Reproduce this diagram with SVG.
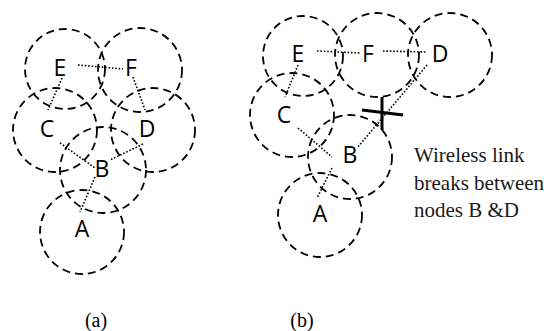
<svg xmlns="http://www.w3.org/2000/svg" width="547" height="331" viewBox="0 0 547 331">
<style>
.rng{fill:none;stroke:#000;stroke-width:1.8;stroke-dasharray:8 5}
.lnk{fill:none;stroke:#000;stroke-width:1.6;stroke-dasharray:1.6 1.8}
.lbl{font-family:"Open Sans","Liberation Sans",sans-serif;font-size:23px;fill:#000;text-anchor:middle}
.txt{font-family:"Liberation Serif",serif;font-size:21px;fill:#1a1a1a}
.cap{font-family:"Liberation Serif",serif;font-size:20px;fill:#000;text-anchor:middle}
.brk{stroke:#000;stroke-width:3;fill:none}
</style>
<rect width="547" height="331" fill="#fff"/>
<g id="panel-a">
  <g id="a-E"><circle class="rng" cx="65" cy="69" r="40"/><text class="lbl" x="60" y="76">E</text></g>
  <g id="a-F"><circle class="rng" cx="140" cy="70" r="42"/><text class="lbl" x="131" y="76">F</text></g>
  <g id="a-C"><circle class="rng" cx="55" cy="130" r="42"/><text class="lbl" x="47" y="137">C</text></g>
  <g id="a-D"><circle class="rng" cx="153" cy="130" r="42"/><text class="lbl" x="147" y="137">D</text></g>
  <g id="a-B"><circle class="rng" cx="103" cy="170" r="43"/><text class="lbl" x="102" y="177">B</text></g>
  <g id="a-A"><circle class="rng" cx="82" cy="232" r="42"/><text class="lbl" x="82" y="237">A</text></g>
</g>
<g id="panel-b">
  <g id="b-E"><circle class="rng" cx="303" cy="56" r="40"/><text class="lbl" x="298" y="62">E</text></g>
  <g id="b-F"><circle class="rng" cx="377" cy="55" r="42"/><text class="lbl" x="368" y="62">F</text></g>
  <g id="b-D"><circle class="rng" cx="450" cy="55" r="42"/><text class="lbl" x="440" y="62">D</text></g>
  <g id="b-C"><circle class="rng" cx="292" cy="115" r="42"/><text class="lbl" x="284" y="123">C</text></g>
  <g id="b-B"><circle class="rng" cx="350" cy="157" r="42"/><text class="lbl" x="350" y="163">B</text></g>
  <g id="b-A"><circle class="rng" cx="320" cy="215" r="42"/><text class="lbl" x="320" y="222">A</text></g>
</g>
<g id="connectors">
  <line class="lnk" x1="78" y1="65" x2="123" y2="69"/>
  <line class="lnk" x1="62" y1="78" x2="48" y2="110"/>
  <line class="lnk" x1="133" y1="77" x2="145" y2="110"/>
  <line class="lnk" x1="60" y1="143" x2="95" y2="168"/>
  <line class="lnk" x1="143" y1="144" x2="110" y2="160"/>
  <line class="lnk" x1="95" y1="177" x2="80" y2="212"/>
  <line class="lnk" x1="317" y1="51" x2="360" y2="53"/>
  <line class="lnk" x1="383" y1="51" x2="427" y2="52"/>
  <line class="lnk" x1="298" y1="65" x2="285" y2="97"/>
  <line class="lnk" x1="298" y1="128" x2="332" y2="157"/>
  <line class="lnk" x1="427" y1="65" x2="357" y2="148"/>
  <line class="lnk" x1="332" y1="168" x2="317" y2="198"/>
</g>
<g id="break-mark">
  <line class="brk" x1="382" y1="97" x2="382" y2="130"/>
  <line class="brk" x1="362" y1="110" x2="403" y2="115"/>
</g>
<g id="labels">
  <text class="txt" x="414" y="162">Wireless link</text>
  <text class="txt" x="414" y="190">breaks between</text>
  <text class="txt" x="414" y="217">nodes B &amp;D</text>
  <text class="cap" x="96" y="327">(a)</text>
  <text class="cap" x="302" y="327">(b)</text>
</g>
</svg>
